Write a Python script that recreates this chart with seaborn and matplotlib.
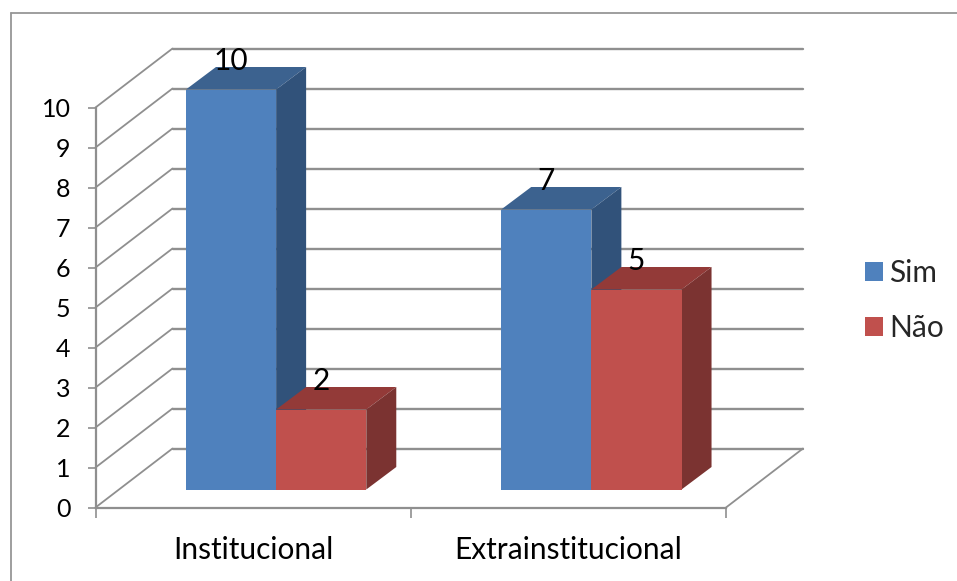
import matplotlib
matplotlib.use("Agg")
import matplotlib.pyplot as plt
import pandas as pd
import seaborn as sns
from matplotlib.lines import Line2D
from matplotlib.patches import Polygon
from matplotlib.transforms import IdentityTransform, Affine2D

categories = ["Institucional", "Extrainstitucional"]
series_names = ["Sim", "Não"]
sim_values = [10, 7]
nao_values = [2, 5]
y_ticks = list(range(0, 11))

FRONT = {"Sim": "#4f81bd", "Não": "#c0504d"}
SIDE = {"Sim": "#31527a", "Não": "#7b3331"}
TOP = {"Sim": "#3c628f", "Não": "#933a38"}
GRID = "#8f8f8f"
INK = "#000000"
FONT = ["Lato", "DejaVu Sans"]

# Oblique projection, in pixels: wall depth, bar placement and bar depth
WALL = (77, 59)
BAR_SHIFT = (23, 18)
BAR_DEPTH = (30, 22.5)

sns.set_theme(style="white")
plt.rcParams["font.family"] = FONT

W, H = 957, 581
fig = plt.figure(figsize=(W / 100, H / 100), dpi=100)
ax = fig.add_axes([95.5 / W, 1 - 507.5 / H, 630.5 / W, 400 / H])

df = pd.DataFrame({
    "categoria": categories * 2,
    "serie": [series_names[0]] * 2 + [series_names[1]] * 2,
    "valor": sim_values + nao_values,
})
sns.barplot(
    data=df, x="categoria", y="valor", hue="serie", hue_order=series_names,
    order=categories, palette=FRONT, width=0.572, gap=0, saturation=1,
    linewidth=0, ax=ax, zorder=3,
)
ax.set_xlim(-0.5, 1.5)
ax.set_ylim(0, 10)
ax.set_xlabel("")
ax.set_ylabel("")
ax.set_yticks(y_ticks)
ax.patch.set_alpha(0)

for side in ("top", "right"):
    ax.spines[side].set_visible(False)
for side in ("left", "bottom"):
    ax.spines[side].set_color(GRID)
    ax.spines[side].set_linewidth(1.6)
ax.tick_params(axis="y", left=True, length=6, width=1.2, color=GRID, labelsize=18, pad=12, labelcolor=INK)
ax.tick_params(axis="x", bottom=True, length=7, width=1.2, color=GRID, labelsize=21.5, pad=12, labelcolor=INK)
ax.set_xticks([-0.5, 0.5, 1.5], minor=False, labels=["", "", ""])
ax.set_xticks([0, 1], labels=categories, minor=True)
ax.tick_params(axis="x", which="minor", bottom=False, labelsize=21.5, pad=16.5, labelcolor=INK)
ax.tick_params(axis="y", which="minor", left=False)

pixel = IdentityTransform()

fig.canvas.draw()
for v in y_ticks:
    a = ax.transData.transform((-0.5, v))
    b = a + WALL
    c = ax.transData.transform((1.5, v)) + WALL
    ax.add_line(Line2D([a[0], b[0]], [a[1], b[1]], transform=pixel, color=GRID,
                       lw=1.3, zorder=1, clip_on=False))
    ax.add_line(Line2D([b[0], c[0]], [b[1], c[1]], transform=pixel, color=GRID,
                       lw=1.7, zorder=1, clip_on=False))

# Right edge of the floor
floor_a = ax.transData.transform((1.5, 0))
floor_b = floor_a + WALL
ax.add_line(Line2D([floor_a[0], floor_b[0]], [floor_a[1], floor_b[1]], transform=pixel,
                   color=GRID, lw=1.3, zorder=1, clip_on=False))

# Give every seaborn bar its extruded top and side faces
shift = Affine2D().translate(*BAR_SHIFT)
ordered = [(s, p) for s, cont in zip(series_names, ax.containers) for p in cont]
ordered.sort(key=lambda item: item[1].get_x())
for order, (name, bar) in enumerate(ordered):
    x0, x1 = bar.get_x(), bar.get_x() + bar.get_width()
    h = bar.get_height()
    bar.set_transform(ax.transData + shift)
    bar.set_clip_on(False)
    z = 3 + order * 0.1
    bar.set_zorder(z + 0.02)
    bl = shift.transform(ax.transData.transform((x0, h)))
    br = shift.transform(ax.transData.transform((x1, h)))
    r0 = shift.transform(ax.transData.transform((x1, 0)))
    d = BAR_DEPTH
    ax.add_patch(Polygon([bl, br, br + d, bl + d], closed=True, transform=pixel,
                         facecolor=TOP[name], edgecolor="none", zorder=z, clip_on=False))
    ax.add_patch(Polygon([br, r0, r0 + d, br + d], closed=True, transform=pixel,
                         facecolor=SIDE[name], edgecolor="none", zorder=z, clip_on=False))
    # Value label, centred over the bar's front face
    centre = (x0 + x1) / 2
    ax.annotate(f"{h:g}", xy=(centre, h), xycoords="data",
                xytext=(BAR_SHIFT[0] * 0.72, (BAR_SHIFT[1] + 28) * 0.72), textcoords="offset points",
                ha="center", va="center", fontsize=21.5, color=INK, zorder=10,
                annotation_clip=False)

# Legend on the right
handles, labels = ax.get_legend_handles_labels()
ax.legend(handles, labels, loc="center left", bbox_to_anchor=(865 / W, 1 - 300.5 / H),
          bbox_transform=fig.transFigure, frameon=False, fontsize=21.5,
          handlelength=0.6, handleheight=0.6, handletextpad=0.22, labelspacing=0.92,
          borderpad=0, borderaxespad=0)

# Chart area border, cut off by the image on the right and bottom
for xs, ys in (([11 / W, 11 / W], [1 - 13 / H, 0]), ([11 / W, 1], [1 - 13 / H, 1 - 13 / H])):
    fig.add_artist(Line2D(xs, ys, transform=fig.transFigure, color="#969696", lw=1.3))

fig.savefig("out.png", dpi=100)
